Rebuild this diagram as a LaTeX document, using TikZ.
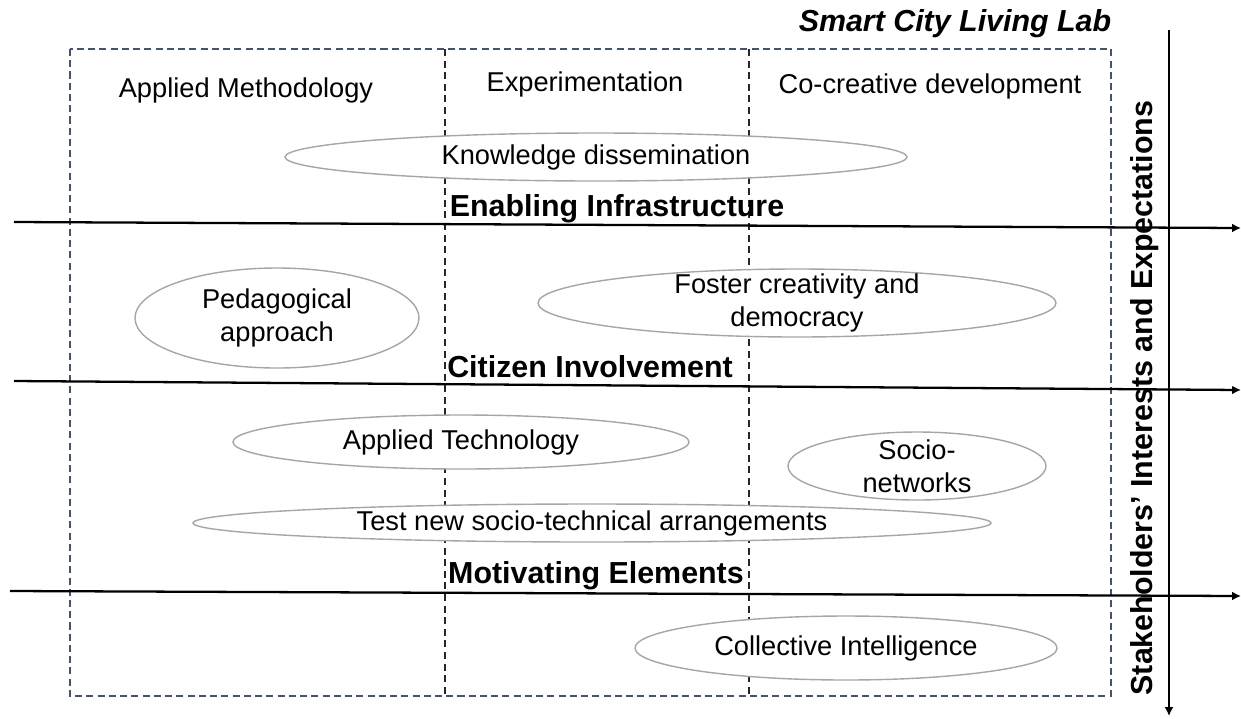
\documentclass[tikz,border=0pt]{standalone}
\usepackage{fontspec}
\setmainfont{Liberation Sans}
\usetikzlibrary{arrows.meta, positioning, backgrounds}
\definecolor{framecol}{HTML}{44546A}

\begin{document}
\begin{tikzpicture}[
    x=0.02cm, y=-0.02cm,
    txt/.style={inner sep=0pt, align=center, font=\fontsize{15.5}{19}\selectfont},
    band/.style={inner sep=0pt, font=\fontsize{17.3}{20}\selectfont\bfseries},
    frame/.style={draw=framecol, line width=1.1pt, dash pattern=on 4pt off 2.4pt},
    divider/.style={draw=black!85, line width=0.75pt, dash pattern=on 4pt off 2.6pt},
    bubble/.style={draw=gray!70, line width=0.8pt, fill=white},
    arrow/.style={-{Latex[length=5pt, width=5pt]}, line width=1.3pt}
  ]
    \useasboundingbox (0,0) rectangle (1241,718);

    \node[band, font=\fontsize{17.3}{20}\selectfont\bfseries\itshape] (title) at (955,24) {Smart City Living Lab};

    \node[txt] (h1) at (246,90) {Applied Methodology};
    \node[txt] (h2) at (585,84) {Experimentation};
    \node[txt] (h3) at (930,86) {Co-creative development};

    \node[txt] (know) at (596,157) {Knowledge dissemination};
    \node[band] (infra) at (617,209) {Enabling Infrastructure};
    \node[txt] (peda) at (277,318) {Pedagogical\\approach};
    \node[txt] (foster) at (797,303) {Foster creativity and\\democracy};
    \node[band] (citizen) at (590,367) {Citizen Involvement};
    \node[txt] (tech) at (461,442) {Applied Technology};
    \node[txt] (socio) at (917,466) {Socio-\\networks};
    \node[txt] (test) at (592,523) {Test new socio-technical arrangements};
    \node[band] (motiv) at (596,576) {Motivating Elements};
    \node[txt] (collect) at (846,648) {Collective Intelligence};

    \node[band, rotate=90] (stake) at (1145,398) {Stakeholders' Interests and Expectations};

    \coordinate (l1) at (14,222);  \coordinate (r1) at (1241,228);
    \coordinate (l2) at (14,381);  \coordinate (r2) at (1241,390);
    \coordinate (l3) at (10,591);  \coordinate (r3) at (1241,596);
    \coordinate (top) at (1169,30); \coordinate (bottom) at (1169,716);

    \draw[arrow] (l1) -- (r1);
    \draw[arrow] (l2) -- (r2);
    \draw[arrow] (l3) -- (r3);
    \draw[arrow] (top) -- (bottom);

    \begin{scope}[on background layer]
      \draw[frame] (70,49) rectangle (1111,696);
      \draw[divider] (445,49) -- (445,696);
      \draw[divider] (749,49) -- (749,696);

      \draw[bubble] (know) ellipse [x radius=311, y radius=24];
      \draw[bubble] (peda) ellipse [x radius=142, y radius=50];
      \draw[bubble] (foster) ellipse [x radius=259, y radius=34];
      \draw[bubble] (tech) ellipse [x radius=228, y radius=27];
      \draw[bubble] (socio) ellipse [x radius=129, y radius=34];
      \draw[bubble] (test) ellipse [x radius=399, y radius=19];
      \draw[bubble] (collect) ellipse [x radius=211, y radius=32];
    \end{scope}
  \end{tikzpicture}
\end{document}
